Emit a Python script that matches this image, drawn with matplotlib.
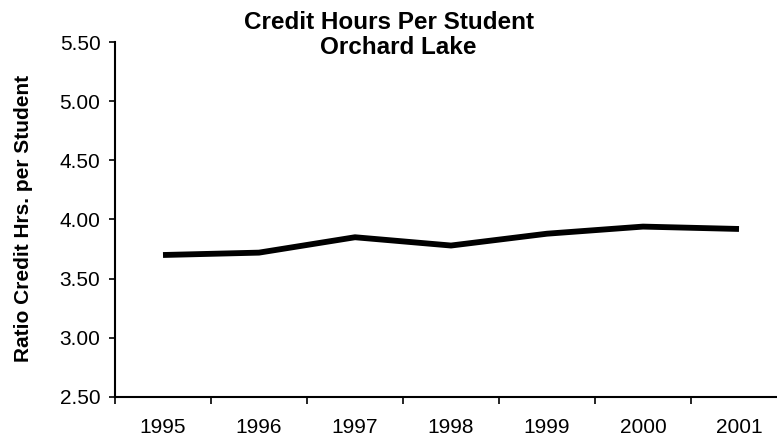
import matplotlib
matplotlib.use("Agg")
import matplotlib.pyplot as plt
from matplotlib.ticker import FixedLocator, NullFormatter

years = ["1995", "1996", "1997", "1998", "1999", "2000", "2001"]
ratio = [3.70, 3.72, 3.85, 3.78, 3.88, 3.94, 3.92]
yticks = [2.50, 3.00, 3.50, 4.00, 4.50, 5.00, 5.50]

plt.rcParams['font.family'] = ['Liberation Sans', 'DejaVu Sans']

W, H = 777, 442
fig = plt.figure(figsize=(W / 100, H / 100), dpi=100)
left, right = 115, 787
top, bottom = 42, 397
ax = fig.add_axes([left / W, 1 - bottom / H, (right - left) / W, (bottom - top) / H])

x = list(range(len(years)))
ax.plot(x, ratio, color='black', linewidth=4.2, solid_capstyle='butt', solid_joinstyle='round')

ax.set_xlim(-0.5, len(years) - 0.5)
ax.set_ylim(2.5, 5.5)
ax.set_yticks(yticks)
ax.set_yticklabels([f"{v:.2f}" for v in yticks], fontsize=15)
ax.set_xticks(x)
ax.set_xticklabels(years, fontsize=15)
ax.tick_params(axis='x', which='major', length=0, pad=15)
ax.xaxis.set_minor_locator(FixedLocator([i - 0.5 for i in range(len(years) + 1)]))
ax.xaxis.set_minor_formatter(NullFormatter())
ax.tick_params(axis='x', which='minor', length=5, width=1.2, direction='out')
ax.tick_params(axis='y', length=4.5, width=1.2, direction='out', pad=6)

for s in ['top', 'right']:
    ax.spines[s].set_visible(False)
for s in ['left', 'bottom']:
    ax.spines[s].set_linewidth(1.5)

fig.text(24 / W, 1 - 218 / H, "Ratio Credit Hrs. per Student", rotation=90,
         ha='center', va='center', fontsize=15, fontweight='bold')

fig.text(389 / W, 1 - 29 / H, "Credit Hours Per Student", ha='center', va='baseline',
         fontsize=17.5, fontweight='bold')
fig.text(398 / W, 1 - 54 / H, "Orchard Lake", ha='center', va='baseline',
         fontsize=17.5, fontweight='bold')

fig.savefig("out.png", dpi=100)
